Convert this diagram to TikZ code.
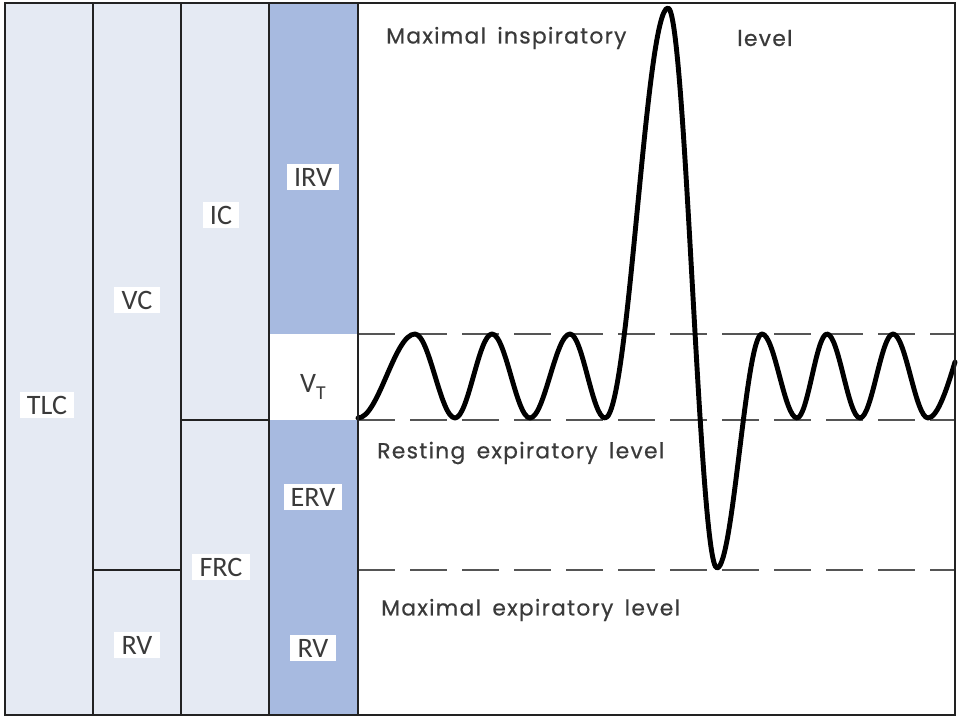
\documentclass[tikz,border=0pt]{standalone}
\usepackage{fontspec}
\setmainfont{Carlito}
\newfontfamily\lvlfont[LetterSpace=6,WordSpace=1.6,FakeBold=0.6]{Poppins}
\usepackage{xcolor}
\usetikzlibrary{positioning}
\definecolor{colfill}{HTML}{E5EAF3}
\definecolor{volblue}{HTML}{A7BAE0}
\definecolor{inkgray}{HTML}{3A3A3A}
\definecolor{framegray}{HTML}{222222}
\definecolor{dashgray}{HTML}{555555}

\begin{document}
\begin{tikzpicture}[
    x=0.025cm, y=-0.025cm,
    frame/.style={draw=framegray, line width=2pt},
    lbl/.style={fill=white, text=inkgray, inner xsep=1.8mm, inner ysep=0.9mm, font=\fontsize{20}{21}\selectfont},
    lvl/.style={anchor=west, text=inkgray, inner sep=0pt, font=\lvlfont\fontsize{15.5}{17}\selectfont},
    level/.style={draw=dashgray, line width=2pt, dash pattern=on 9.25mm off 3.75mm},
    wave/.style={draw=black, line width=3.5pt, line cap=round, line join=round}
]
    \useasboundingbox (0,0) rectangle (960,720);

    % volume columns
    \fill[colfill] (5,3) rectangle (269,715);
    \fill[volblue] (269,3) rectangle (358,715);
    \fill[white] (269,334) rectangle (358,420);
    \fill[white] (358,3) rectangle (955,715);

    % reference levels
    \draw[level] (358,334) -- (955,334);
    \draw[level] (358,420) -- (955,420);
    \draw[level] (358,570) -- (955,570);

    % spirogram trace
    \draw[wave] (358,418)
        .. controls (378.5,418) and (394.5,334) .. (415,334)
        .. controls (429.4,334) and (440.6,418) .. (455,418)
        .. controls (468.3,418) and (478.7,334) .. (492,334)
        .. controls (505.7,334) and (516.3,418) .. (530,418)
        .. controls (544.4,418) and (555.6,334) .. (570,334)
        .. controls (582.6,334) and (592.4,418) .. (605,418)
        .. controls (629,418) and (645.3,8) .. (668,8)
        .. controls (685.6,8) and (699.4,568) .. (717,568)
        .. controls (733.2,568) and (745.8,334) .. (762,334)
        .. controls (774.6,334) and (784.4,418) .. (797,418)
        .. controls (807.8,418) and (816.2,334) .. (827,334)
        .. controls (838.9,334) and (848.1,418) .. (860,418)
        .. controls (871.9,418) and (881.1,334) .. (893,334)
        .. controls (905.6,334) and (915.4,418) .. (928,418)
        .. controls (938,418) and (948,385) .. (955,362);

    % grid lines
    \draw[frame] (5,3) rectangle (955,715);
    \draw[frame] (93,3) -- (93,715);
    \draw[frame] (181,3) -- (181,715);
    \draw[frame] (269,3) -- (269,715);
    \draw[frame] (358,3) -- (358,715);
    \draw[frame] (93,570) -- (181,570);
    \draw[frame] (181,420) -- (269,420);

    % capacities and volumes
    \node[lbl] (tlc) at (47,405) {TLC};
    \node[lbl] (vc) at (137,300) {VC};
    \node[lbl] (rvl) at (137,645) {RV};
    \node[lbl] (ic) at (221,215) {IC};
    \node[lbl] (frc) at (221,567) {FRC};
    \node[lbl] (irv) at (313,177) {IRV};
    \node[lbl] (vt) at (313,387) {V\raisebox{-0.45ex}{\fontsize{14}{14}\selectfont T}};
    \node[lbl] (erv) at (313,497) {ERV};
    \node[lbl] (rvr) at (313,648) {RV};

    \node[lvl] (maxin) at (386,38) {Maximal inspiratory};
    \node[lvl] (maxinlvl) at (737,38) {level};
    \node[lvl] (rest) at (377,453) {Resting expiratory level};
    \node[lvl] (maxex) at (381,610) {Maximal expiratory level};
\end{tikzpicture}
\end{document}
